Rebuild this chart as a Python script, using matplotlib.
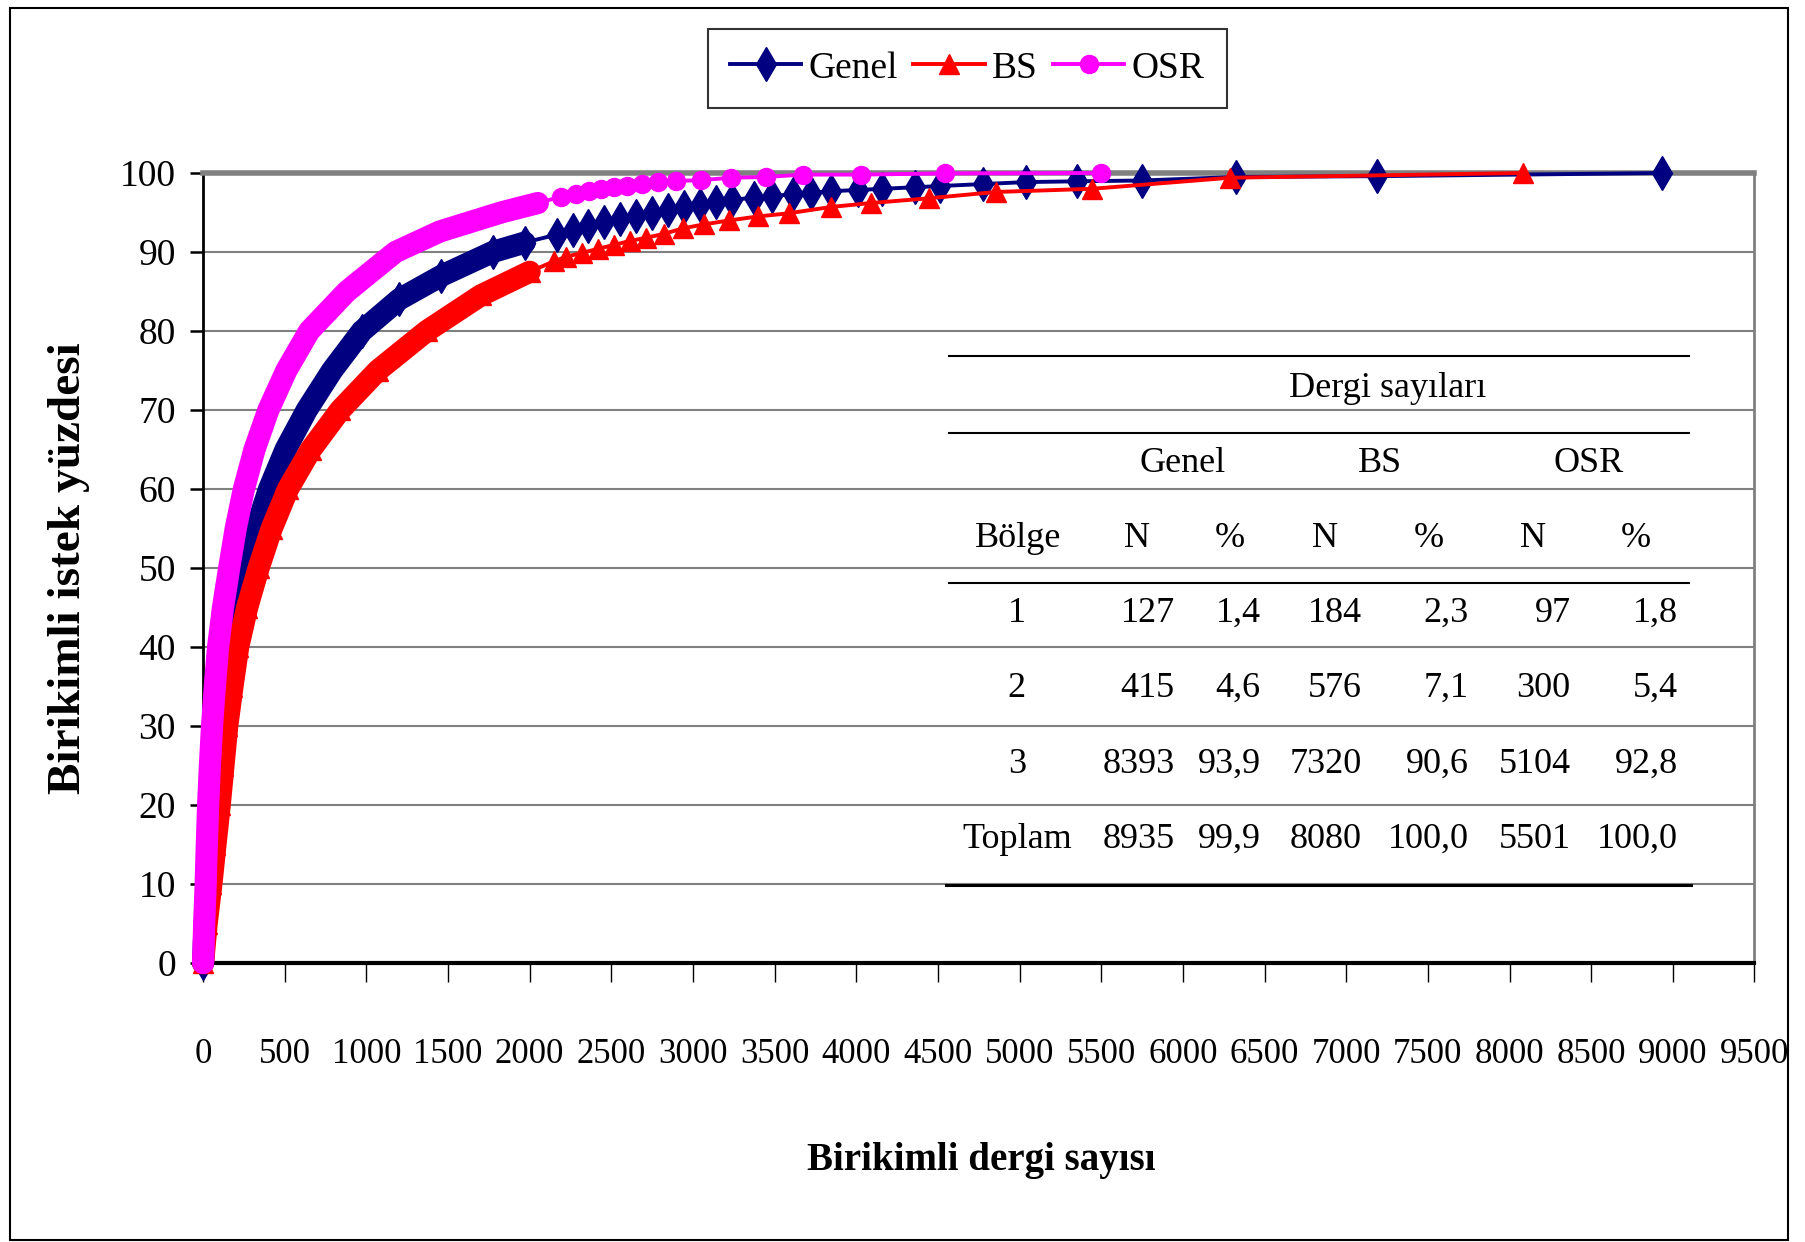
import numpy as np
import matplotlib
matplotlib.use('Agg')
import matplotlib.pyplot as plt
from matplotlib.patches import Rectangle

# cumulative journals (x) vs cumulative % of requests (y)
genel_x = [0, 10, 22, 36, 50, 72, 98, 128, 164, 208, 260, 325, 404, 505, 635, 790, 973,
           1200, 1460, 1773, 1970, 2165, 2263, 2360, 2458, 2556, 2654, 2751, 2849, 2947,
           3044, 3142, 3240, 3376, 3486, 3611, 3720, 3845, 4009, 4158, 4361, 4510, 4775,
           5037, 5350, 5748, 6327, 7187, 8935]
genel_y = [0, 5, 10, 15, 20, 25, 30, 35, 40, 45, 50, 55, 60, 65, 70, 75, 80,
           84, 87, 90, 91.2, 92.2, 92.8, 93.3, 93.8, 94.2, 94.6, 95.0, 95.3, 95.7,
           96.0, 96.3, 96.6, 96.9, 97.1, 97.3, 97.5, 97.7, 97.85, 98.0, 98.2, 98.35, 98.6,
           98.85, 98.95, 99.05, 99.5, 99.6, 100]

bs_x = [0, 22, 51, 76, 102, 125, 148, 180, 215, 270, 340, 420, 520, 660, 840, 1070,
        1370, 1700, 2000, 2146, 2224, 2321, 2419, 2517, 2614, 2712, 2822, 2940, 3068,
        3222, 3398, 3585, 3844, 4090, 4443, 4855, 5442, 6288, 8080]
bs_y = [0, 5, 10, 15, 20, 25, 30, 35, 40, 45, 50, 55, 60, 65, 70, 75,
        80, 84.5, 87.5, 88.8, 89.4, 89.9, 90.4, 90.9, 91.4, 91.8, 92.3, 93.0, 93.5,
        94.0, 94.5, 94.9, 95.7, 96.2, 96.8, 97.6, 98.0, 99.4, 100]

osr_x = [0, 7, 16, 23, 31, 42, 55, 72, 92, 122, 160, 200, 250, 315, 400, 510, 650,
         880, 1178, 1450, 1824, 2050, 2192, 2282, 2361, 2439, 2517, 2595, 2690, 2786,
         2897, 3052, 3230, 3447, 3676, 4030, 4545, 5501]
osr_y = [0, 5, 10, 15, 20, 25, 30, 35, 40, 45, 50, 55, 60, 65, 70, 75, 80,
         85, 90, 92.6, 95.0, 96.2, 97.0, 97.4, 97.7, 98.0, 98.2, 98.4, 98.6, 98.8,
         99.0, 99.1, 99.4, 99.5, 99.8, 99.8, 99.95, 100]

x_ticks = list(range(0, 9501, 500))
y_ticks = list(range(0, 101, 10))

table_title = 'Dergi sayıları'
table_groups = ['Genel', 'BS', 'OSR']
table_header = ['Bölge', 'N', '%', 'N', '%', 'N', '%']
table_rows = [
    ['1', '127', '1,4', '184', '2,3', '97', '1,8'],
    ['2', '415', '4,6', '576', '7,1', '300', '5,4'],
    ['3', '8393', '93,9', '7320', '90,6', '5104', '92,8'],
    ['Toplam', '8935', '99,9', '8080', '100,0', '5501', '100,0'],
]

plt.rcParams['font.family'] = ['Liberation Serif', 'DejaVu Serif']

fig = plt.figure(figsize=(18.05, 12.42), dpi=100)
ax = fig.add_axes([0.1125, 0.2246, 0.8595, 0.6361])

series = [
    (genel_x, genel_y, '#000080', 'd', 17, 'Genel', 2000),
    (bs_x, bs_y, '#FF0000', '^', 14.5, 'BS', 2050),
    (osr_x, osr_y, '#FF00FF', 'o', 13, 'OSR', 2100),
]
for xs, ys, col, mk, ms, lab, band_end in series:
    xs = np.array(xs)
    ys = np.array(ys)
    dense = xs <= band_end
    # the dense part of the curve reads as a solid band of overlapping markers
    ax.plot(xs[dense], ys[dense], color=col, lw=16, solid_capstyle='round',
            solid_joinstyle='round', clip_on=False, zorder=3)
    ax.plot(xs, ys, color=col, lw=2.8, marker=mk, ms=ms, mec=col, mfc=col,
            label=lab, clip_on=False, zorder=3)

ax.set_xlim(0, 9500)
ax.set_ylim(0, 100)
ax.set_xticks(x_ticks)
ax.set_yticks(y_ticks)
ax.yaxis.grid(True, color='#808080', lw=1.5)
ax.set_axisbelow(True)

ax.spines['top'].set_color('#808080')
ax.spines['top'].set_linewidth(4)
ax.spines['right'].set_color('#808080')
ax.spines['right'].set_linewidth(2)
ax.spines['left'].set_linewidth(2)
ax.spines['bottom'].set_linewidth(3)

ax.tick_params(axis='x', direction='out', length=14, width=1, pad=40, labelsize=25)
ax.tick_params(axis='y', direction='out', length=9.5, width=1.8, pad=10, labelsize=27)

fig.text(0.0382, 0.5427, 'Birikimli istek yüzdesi', rotation=90, fontsize=34,
         fontweight='bold', ha='center', va='center')
fig.text(0.5435, 0.066, 'Birikimli dergi sayısı', fontsize=28,
         fontweight='bold', ha='center', va='center')

leg = fig.legend(loc='center', bbox_to_anchor=(0.536, 0.945), ncol=3, frameon=True,
                 fancybox=False, edgecolor='black', fontsize=27, handlelength=1.9,
                 handletextpad=0.2, columnspacing=0.4, borderpad=0.6)
leg.get_frame().set_linewidth(1.5)

# inset table (axes fraction coordinates)
tr = ax.transAxes
for yy, x0, x1, lw in [(0.7684, 0.4807, 0.9575, 1.5), (0.6709, 0.4807, 0.9575, 1.5),
                       (0.4810, 0.4807, 0.9575, 1.5), (0.0987, 0.4787, 0.9588, 2.2)]:
    ax.plot([x0, x1], [yy, yy], transform=tr, color='black', lw=lw, zorder=4)

fs = 26
ax.text(0.7635, 0.7278, table_title, transform=tr, fontsize=fs, ha='center', va='center')
for gx, g in zip([0.6314, 0.7584, 0.8930], table_groups):
    ax.text(gx, 0.6329, g, transform=tr, fontsize=fs, ha='center', va='center')
for hx, h in zip([0.5251, 0.6018, 0.6617, 0.7229, 0.7899, 0.8570, 0.9233], table_header):
    ax.text(hx, 0.5380, h, transform=tr, fontsize=fs, ha='center', va='center')
right_edges = [0.6263, 0.6817, 0.7468, 0.8157, 0.8814, 0.9504]
for ry, row in zip([0.4430, 0.3481, 0.2519, 0.1570], table_rows):
    ax.text(0.5245, ry, row[0], transform=tr, fontsize=fs, ha='center', va='center')
    for rx, cell in zip(right_edges, row[1:]):
        ax.text(rx, ry, cell, transform=tr, fontsize=fs, ha='right', va='center')

fig.add_artist(Rectangle((0.0055, 0.0016), 0.9851, 0.992, transform=fig.transFigure,
                         fill=False, edgecolor='black', lw=1.5))

fig.savefig('out.png', dpi=100)
